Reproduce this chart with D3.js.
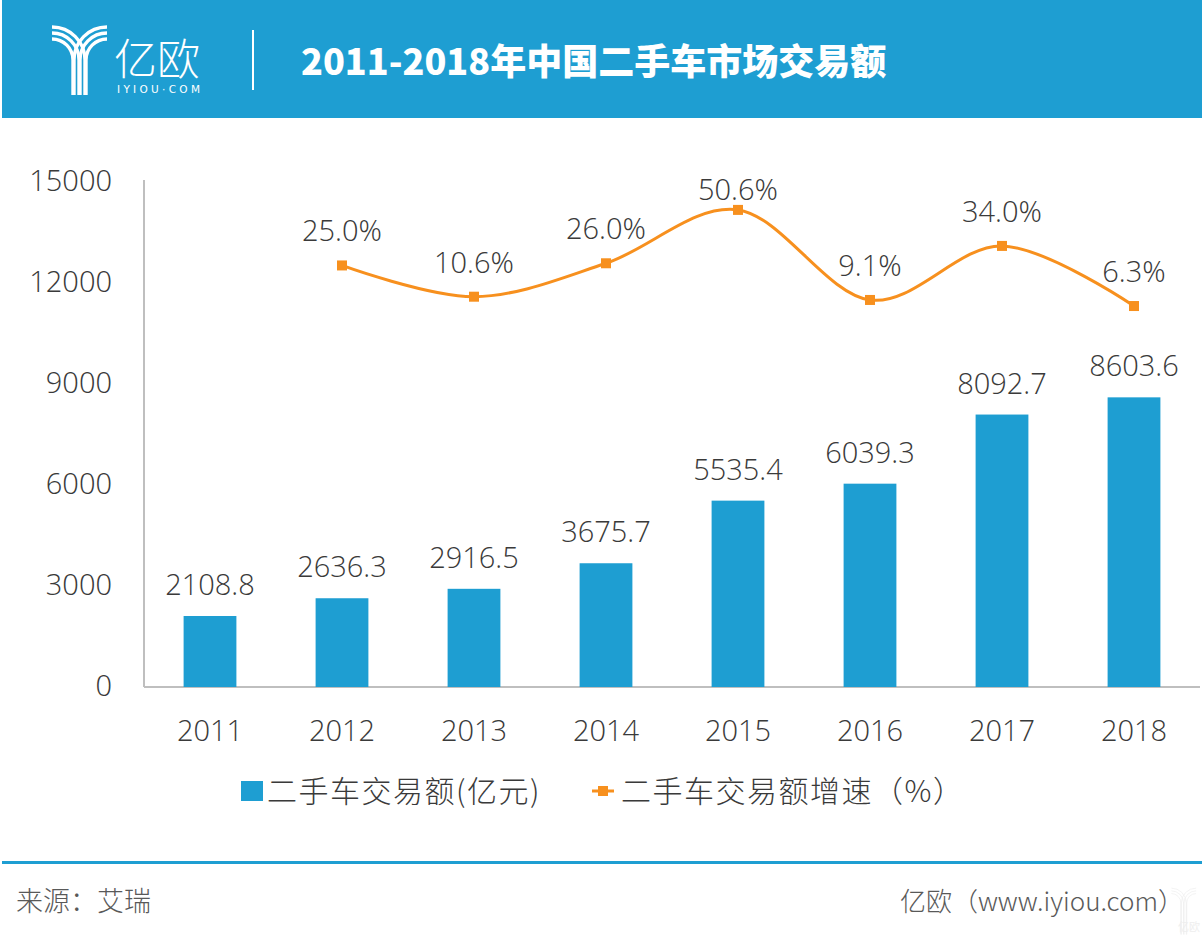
<!DOCTYPE html>
<html><head><meta charset="utf-8">
<script src="https://cdn.jsdelivr.net/npm/d3@7"></script>
<style>
html,body{margin:0;padding:0;background:#fff;}
svg{display:block;}
</style></head>
<body>
<script>
const years = ["2011","2012","2013","2014","2015","2016","2017","2018"];
const amounts = [2108.8, 2636.3, 2916.5, 3675.7, 5535.4, 6039.3, 8092.7, 8603.6];
const growth = [null, 25.0, 10.6, 26.0, 50.6, 9.1, 34.0, 6.3];
const yTicks = [0, 3000, 6000, 9000, 12000, 15000];
const title = "2011-2018年中国二手车市场交易额";
const legendBar = "二手车交易额(亿元)";
const legendLine = "二手车交易额增速（%）";
const source = "来源：艾瑞";
const credit = "亿欧（www.iyiou.com）";

const W = 1204, H = 940;
const BLUE = "#1e9ed2", ORANGE = "#f7901e", TXT = "#3a3a3a";
const NUMFONT = "'Open Sans Light', 'Open Sans', 'Segoe UI', sans-serif";
const CJK = "'Noto Sans CJK SC', sans-serif";

const svg = d3.select("body").append("svg").attr("width", W).attr("height", H);

// header
svg.append("rect").attr("x", 2).attr("y", 0).attr("width", 1200).attr("height", 118).attr("fill", BLUE);
const logo = svg.append("g").attr("fill", "none").attr("stroke", "#fff").attr("stroke-width", 3.4);
[33, 27, 21].forEach(r => {
  logo.append("path").attr("d", `M52,${60 - r} A${r},${r} 0 0 1 ${52 + r},60 L${52 + r},95`);
  logo.append("path").attr("d", `M107,${60 - r} A${r},${r} 0 0 0 ${107 - r},60 L${107 - r},95`);
});
svg.append("text").attr("x", 114).attr("y", 75).attr("fill", "#fff")
  .attr("font-family", CJK).attr("font-weight", 300).attr("font-size", 43).text("亿欧");
svg.append("text").attr("x", 117).attr("y", 93).attr("fill", "#fff")
  .attr("font-family", "'DejaVu Sans', sans-serif").attr("font-size", 10.5).attr("letter-spacing", 3.3).text("IYIOU·COM");
svg.append("line").attr("x1", 253).attr("x2", 253).attr("y1", 30).attr("y2", 90).attr("stroke", "#fff").attr("stroke-width", 2);
svg.append("text").attr("x", 301).attr("y", 75).attr("fill", "#fff")
  .attr("font-family", CJK).attr("font-weight", 900).attr("font-size", 36).text(title);

// scales
const x = d3.scaleBand().domain(years).range([144, 1200]).paddingInner(0.6).paddingOuter(0.3);
const y = d3.scaleLinear().domain([0, 15000]).range([687, 182]);
const y2 = d3.scaleLinear().domain([0, 50]).range([319.7, 211.2]);

// y axis
const gy = svg.append("g").attr("transform", "translate(144,0)")
  .call(d3.axisLeft(y).tickValues(yTicks).tickSize(0).tickPadding(32).tickFormat(d3.format("d")));
gy.select(".domain").attr("stroke", "#bfbfbf").attr("stroke-width", 2).attr("d", "M0,180V687");
gy.selectAll("text").attr("font-family", NUMFONT).attr("font-weight", 300).attr("font-size", 29).attr("fill", TXT).attr("dy", "0.3em");

// x axis
const gx = svg.append("g").attr("transform", "translate(0,687)")
  .call(d3.axisBottom(x).tickSize(0).tickPadding(33));
gx.select(".domain").attr("stroke", "#bfbfbf").attr("stroke-width", 2).attr("d", "M144,0H1200");
gx.selectAll("text").attr("font-family", NUMFONT).attr("font-weight", 300).attr("font-size", 29).attr("fill", TXT);

// bars
svg.append("g").selectAll("rect").data(amounts).join("rect")
  .attr("x", (d, i) => x(years[i])).attr("width", x.bandwidth())
  .attr("y", d => y(d)).attr("height", d => y(0) - y(d)).attr("fill", BLUE);
svg.append("g").selectAll("text").data(amounts).join("text")
  .attr("x", (d, i) => x(years[i]) + x.bandwidth() / 2).attr("y", d => y(d) - 21)
  .attr("text-anchor", "middle").attr("font-family", NUMFONT).attr("font-weight", 300)
  .attr("font-size", 29).attr("fill", TXT).text(d => d.toFixed(1));

// line
const pts = growth.map((g, i) => ({ g, yr: years[i] })).filter(d => d.g !== null);
const cx = d => x(d.yr) + x.bandwidth() / 2;
svg.append("path").datum(pts)
  .attr("d", d3.line().x(cx).y(d => y2(d.g)).curve(d3.curveCardinal.tension(0)))
  .attr("fill", "none").attr("stroke", ORANGE).attr("stroke-width", 3);
svg.append("g").selectAll("rect").data(pts).join("rect")
  .attr("x", d => cx(d) - 5).attr("y", d => y2(d.g) - 5).attr("width", 10).attr("height", 10).attr("fill", ORANGE);
svg.append("g").selectAll("text").data(pts).join("text")
  .attr("x", cx).attr("y", d => Math.max(y2(d.g) - 24, 200))
  .attr("text-anchor", "middle").attr("font-family", NUMFONT).attr("font-weight", 300)
  .attr("font-size", 29).attr("fill", TXT).text(d => d.g.toFixed(1) + "%");

// legend
svg.append("rect").attr("x", 241).attr("y", 781).attr("width", 22).attr("height", 20).attr("fill", BLUE);
svg.append("text").attr("x", 267).attr("y", 802).attr("font-family", CJK).attr("font-weight", 300)
  .attr("font-size", 30).attr("letter-spacing", 1.5).attr("fill", TXT).text(legendBar);
svg.append("line").attr("x1", 592).attr("x2", 614).attr("y1", 791).attr("y2", 791).attr("stroke", ORANGE).attr("stroke-width", 3);
svg.append("rect").attr("x", 598).attr("y", 786).attr("width", 10).attr("height", 10).attr("fill", ORANGE);
svg.append("text").attr("x", 621).attr("y", 802).attr("font-family", CJK).attr("font-weight", 300)
  .attr("font-size", 30).attr("letter-spacing", 1.5).attr("fill", TXT).text(legendLine);

// footer
svg.append("rect").attr("x", 2).attr("y", 861).attr("width", 1200).attr("height", 3).attr("fill", BLUE);
svg.append("text").attr("x", 16).attr("y", 911).attr("font-family", CJK).attr("font-weight", 300)
  .attr("font-size", 27).attr("fill", "#595959").text(source);
svg.append("text").attr("x", 1184).attr("y", 911).attr("text-anchor", "end").attr("font-family", CJK).attr("font-weight", 300)
  .attr("font-size", 26).attr("fill", "#595959").text(credit);
// faint watermark
const wm = svg.append("g").attr("fill", "none").attr("stroke", "#eeeeee").attr("stroke-width", 1.6).attr("transform", "translate(1148,876) scale(0.45)");
[33, 27, 21].forEach(r => {
  wm.append("path").attr("d", `M52,${60 - r} A${r},${r} 0 0 1 ${52 + r},60 L${52 + r},130`);
  wm.append("path").attr("d", `M107,${60 - r} A${r},${r} 0 0 0 ${107 - r},60 L${107 - r},130`);
});
svg.append("text").attr("x", 1178).attr("y", 931).attr("font-family", CJK).attr("font-size", 11).attr("fill", "#eeeeee").text("亿欧");
</script>
</body></html>
